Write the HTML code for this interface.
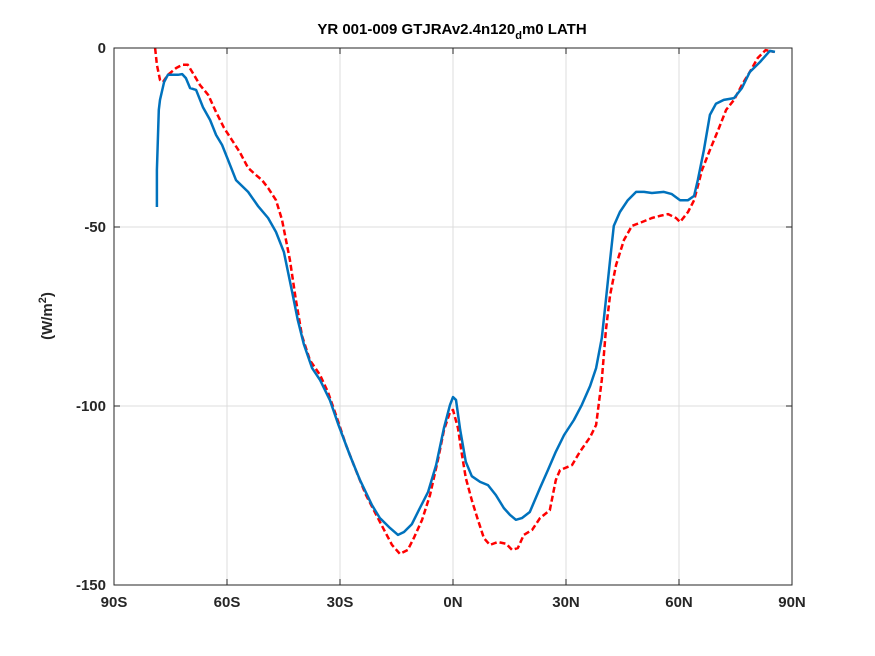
<!DOCTYPE html>
<html><head><meta charset="utf-8"><style>
html,body{margin:0;padding:0;background:#fff;}
svg{display:block;font-family:"Liberation Sans",sans-serif;}
</style></head><body>
<svg id="chart" width="875" height="656" viewBox="0 0 875 656" xmlns="http://www.w3.org/2000/svg">
<rect width="875" height="656" fill="#fff"/>
<g id="grid"></g>
<g id="series"></g>
<rect x="114" y="48" width="678" height="537" fill="none" stroke="#262626" stroke-width="1"/>
<g id="ticks"></g>
<text x="452" y="34" text-anchor="middle" font-size="15" font-weight="bold" fill="#000">YR 001-009 GTJRAv2.4n120<tspan font-size="11" dy="5">d</tspan><tspan dy="-5">m0 LATH</tspan></text>
<text transform="translate(52,316) rotate(-90)" text-anchor="middle" font-size="15" font-weight="bold" fill="#262626">(W/m<tspan font-size="11" dy="-6">2</tspan><tspan dy="6">)</tspan></text>
</svg>
<script>
const xTicks=[-90,-60,-30,0,30,60,90];
const xTickLabels=["90S","60S","30S","0N","30N","60N","90N"];
const yTicks=[0,-50,-100,-150];
const yTickLabels=["0","-50","-100","-150"];
const blueLat=[-78.6,-78.6,-78.1,-77.8,-76.7,-75.7,-73.0,-71.9,-70.9,-69.8,-68.2,-66.4,-64.5,-62.9,-61.3,-59.7,-57.6,-54.4,-51.8,-49.1,-47.0,-44.9,-42.7,-41.2,-39.6,-37.4,-35.3,-32.7,-30.5,-27.4,-24.7,-21.5,-19.4,-16.7,-14.6,-13.0,-10.9,-8.8,-6.6,-4.5,-2.4,-0.8,0.0,0.8,1.9,3.4,5.0,7.2,9.3,11.4,13.5,15.1,16.7,18.3,20.4,23.1,25.2,27.3,29.5,32.1,34.2,36.4,38.0,39.5,40.6,41.7,42.7,44.3,46.4,48.6,50.7,52.8,56.0,58.1,60.3,62.4,64.0,65.0,66.6,68.2,69.8,71.9,74.6,76.7,78.8,81.5,84.1,85.5];
const blueVal=[-44.4,-34.1,-17.3,-14.5,-9.5,-7.5,-7.5,-7.3,-8.4,-11.2,-11.7,-16.5,-20.1,-24.3,-27.1,-31.3,-36.9,-40.2,-44.1,-47.5,-51.4,-57.0,-68.2,-76.0,-82.7,-89.4,-92.7,-98.3,-105.0,-113.7,-120.7,-127.7,-131.3,-134.1,-136.0,-135.2,-133.0,-128.5,-124.0,-116.5,-106.1,-99.7,-97.5,-98.3,-106.7,-115.6,-119.6,-121.2,-122.1,-124.9,-128.5,-130.4,-131.8,-131.3,-129.6,-122.9,-117.9,-112.8,-108.1,-103.9,-99.7,-94.4,-89.4,-81.0,-70.4,-59.2,-49.7,-45.8,-42.5,-40.2,-40.2,-40.5,-40.2,-40.8,-42.5,-42.5,-41.3,-36.9,-28.5,-18.7,-15.6,-14.5,-14.0,-11.2,-6.7,-3.9,-0.8,-1.1];
const redLat=[-79.1,-78.6,-77.8,-77.0,-75.7,-73.5,-71.9,-70.4,-68.8,-67.2,-65.0,-62.9,-60.8,-58.7,-56.6,-54.4,-52.3,-50.7,-49.1,-47.0,-45.4,-43.3,-41.7,-40.1,-38.0,-35.3,-33.2,-31.1,-28.4,-25.8,-23.1,-20.4,-18.3,-16.2,-14.1,-12.0,-10.4,-8.2,-6.1,-4.0,-2.4,-0.8,0.0,1.3,2.4,3.4,5.0,6.6,8.2,9.8,11.9,14.1,15.7,17.2,18.8,21.0,23.1,25.7,27.3,28.4,31.6,33.7,36.4,38.0,39.5,40.6,41.7,43.3,45.4,47.5,50.2,52.8,54.9,57.1,59.2,60.3,62.4,64.0,66.1,68.2,70.4,72.5,74.6,76.7,78.8,80.9,83.0,85.2];
const redVal=[0,-4.7,-8.9,-9.5,-7.5,-5.6,-4.7,-4.7,-7.5,-10.3,-13.1,-17.9,-22.3,-25.7,-29.1,-33.5,-35.5,-36.9,-39.1,-42.5,-48.0,-59.2,-70.4,-80.4,-87.2,-91.3,-96.1,-102.5,-110.9,-117.9,-124.9,-130.4,-134.6,-138.8,-141.3,-140.2,-136.9,-131.8,-124.9,-115.1,-106.7,-101.7,-101.1,-106.1,-113.7,-120.1,-126.3,-131.8,-136.9,-138.8,-138.0,-138.5,-140.2,-139.7,-136.0,-134.6,-131.3,-129.1,-120.7,-117.9,-116.5,-112.8,-108.7,-105.3,-92.7,-78.8,-69.0,-60.6,-53.6,-49.7,-48.6,-47.5,-46.9,-46.4,-47.5,-48.6,-45.8,-42.5,-34.1,-28.5,-22.9,-17.3,-14.5,-10.3,-6.7,-2.8,-0.6,-1.1];
const X0=114,X1=792,Y0=48,Y1=585;
const xs=v=>X0+(v+90)/180*(X1-X0);
const ys=v=>Y0+(0-v)/150*(Y1-Y0);
const NS="http://www.w3.org/2000/svg";
const grid=document.getElementById('grid'),ticks=document.getElementById('ticks'),series=document.getElementById('series');
function mk(tag,attrs,parent){const e=document.createElementNS(NS,tag);for(const k in attrs)e.setAttribute(k,attrs[k]);parent.appendChild(e);return e;}
xTicks.forEach((t,i)=>{
  const x=xs(t);
  if(i>0&&i<xTicks.length-1){const g=mk('line',{x1:x,x2:x,y1:Y0,y2:Y1,stroke:'#dcdcdc','stroke-width':1},grid);
  
  }
  const a=mk('line',{x1:x,x2:x,y1:Y1,y2:Y1-6,stroke:'#262626'},ticks);
  
  
  const b=mk('line',{x1:x,x2:x,y1:Y0,y2:Y0+6,stroke:'#262626'},ticks);
  
  
  const tx=mk('text',{x:x,y:Y1+22,'text-anchor':'middle','font-size':15,'font-weight':'bold',fill:'#262626'},ticks);
  tx.textContent=xTickLabels[i];
  
  
});
yTicks.forEach((t,i)=>{
  const y=ys(t);
  if(i>0&&i<yTicks.length-1){const g=mk('line',{x1:X0,x2:X1,y1:y,y2:y,stroke:'#dcdcdc','stroke-width':1},grid);
  
  }
  const a=mk('line',{x1:X0,x2:X0+6,y1:y,y2:y,stroke:'#262626'},ticks);
  
  
  const b=mk('line',{x1:X1,x2:X1-6,y1:y,y2:y,stroke:'#262626'},ticks);
  
  
  const tx=mk('text',{x:X0-8,y:y+5,'text-anchor':'end','font-size':15,'font-weight':'bold',fill:'#262626'},ticks);
  tx.textContent=yTickLabels[i];
  
  
});
function path(lat,val){return lat.map((l,i)=>(i?'L':'M')+xs(l).toFixed(1)+','+ys(val[i]).toFixed(1)).join('');}
const r=mk('path',{d:path(redLat,redVal),fill:'none',stroke:'#ff0000','stroke-width':2.5,'stroke-dasharray':'6,3','stroke-linejoin':'round'},series);


const bl=mk('path',{d:path(blueLat,blueVal),fill:'none',stroke:'#0072bd','stroke-width':2.5,'stroke-linejoin':'round'},series);


</script>
</body></html>
